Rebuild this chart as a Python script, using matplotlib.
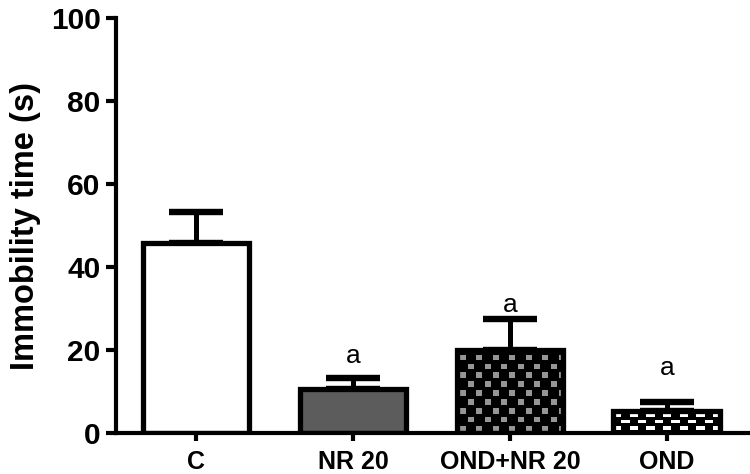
import matplotlib
matplotlib.use("Agg")
import matplotlib.pyplot as plt
import numpy as np

plt.rcParams['font.family'] = ['Liberation Sans', 'DejaVu Sans']

groups = ["C", "NR 20", "OND+NR 20", "OND"]
means = [45.9, 10.7, 20.1, 5.2]
sem = [7.4, 2.6, 7.4, 2.3]
marks = ["", "a", "a", "a"]
mark_y = [0, 16.9, 29.2, 14.0]   # baseline heights of the "a" letters
yticks = [0, 20, 40, 60, 80, 100]

fig = plt.figure(figsize=(7.5, 4.74), dpi=100)
ax = fig.add_axes([0.1547, 0.0865, 0.8453, 0.8755])
x = np.arange(len(groups))

ax.set_xlim(-0.51, 3.53)
ax.set_ylim(0, 100)

ax.errorbar(x, means, yerr=[np.zeros(len(sem)), sem], fmt='none', ecolor='black',
            elinewidth=3.6, capsize=19.5, capthick=4.6, zorder=1)
faces = ['white', '#5c5c5c', 'black', 'black']
bars = ax.bar(x, means, width=0.68, color=faces, edgecolor='black', linewidth=3.8, zorder=2)


def texture(bar, pw, ph, sw, sh, cofs, rofs, c_bg, c_fg):
    # pixel texture: small blocks on a staggered grid, clipped to the bar
    x0, y0 = bar.get_x(), bar.get_y()
    x1, y1 = x0 + bar.get_width(), y0 + bar.get_height()
    p0 = ax.transData.transform((x0, y0))
    p1 = ax.transData.transform((x1, y1))
    nc = int(round(abs(p1[0] - p0[0])))
    nr = max(1, int(round(abs(p1[1] - p0[1]))))
    r, c = np.indices((nr, nc)).astype(float)
    r = r[::-1] + 0.5 - rofs  # count rows from the bottom
    c = c + 0.5 - cofs
    shift = (np.floor(r / ph) % 2) * pw / 2
    on = ((r % ph) < sh) & (((c + shift) % pw) < sw)
    cmap = matplotlib.colors.ListedColormap([c_bg, c_fg])
    im = ax.imshow(on.astype(int), cmap=cmap, vmin=0, vmax=1, extent=(x0, x1, y0, y1),
                   aspect='auto', interpolation='nearest', zorder=1.9)
    im.set_clip_path(bar)
    bar.set_facecolor('none')


texture(bars[2], 16.5, 8.7, 6, 5.5, 3, 2.0, 'black', '#969696')
texture(bars[3], 16.7, 6.7, 8.3, 3.8, 0.0, 3.0, 'black', 'white')

for xi, yy, t in zip(x, mark_y, marks):
    if t:
        ax.text(xi, yy, t, ha='center', va='baseline', fontsize=19)

ax.set_yticks(yticks)
ax.set_xticks(x)
ax.set_xticklabels(groups, fontsize=18, fontweight='bold')
for lab in ax.get_yticklabels():
    lab.set_fontsize(21.5)
    lab.set_fontweight('bold')
ax.set_ylabel("Immobility time (s)", fontsize=23.5, fontweight='bold', labelpad=7)

ax.spines['top'].set_visible(False)
ax.spines['right'].set_visible(False)
ax.spines['left'].set_linewidth(3)
ax.spines['bottom'].set_linewidth(3)
ax.tick_params(axis='y', direction='out', length=7, width=3, pad=4)
ax.tick_params(axis='x', direction='out', length=6, width=3, pad=6)

fig.savefig("out.png", dpi=100)
